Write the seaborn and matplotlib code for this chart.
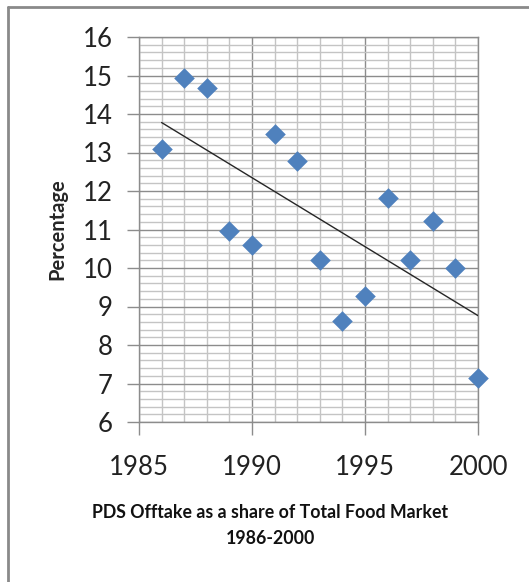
import numpy as np
import pandas as pd
import matplotlib
matplotlib.use('Agg')
import matplotlib.pyplot as plt
from matplotlib.ticker import MultipleLocator
from matplotlib.lines import Line2D
import seaborn as sns

# data
years = [1986, 1987, 1988, 1989, 1990, 1991, 1992, 1993,
         1994, 1995, 1996, 1997, 1998, 1999, 2000]
share = [13.1, 14.93, 14.68, 10.95, 10.6, 13.48, 12.78, 10.22,
         8.63, 9.27, 11.82, 10.22, 11.23, 10.0, 7.15]

df = pd.DataFrame({'year': years, 'share': share})

sns.set_style('white')
plt.rcParams['font.family'] = ['Lato', 'DejaVu Sans']

fig = plt.figure(figsize=(5.29, 5.82), dpi=100)
ax = fig.add_axes([139 / 529, 1 - 422 / 582, 339 / 529, 385 / 582])

ax.set_xlim(1985, 2000)
ax.set_ylim(6, 16)
ax.xaxis.set_major_locator(MultipleLocator(5))
ax.xaxis.set_minor_locator(MultipleLocator(1))
ax.yaxis.set_major_locator(MultipleLocator(1))
ax.yaxis.set_minor_locator(MultipleLocator(0.2))
ax.grid(which='major', color='#8c8c8c', lw=1)
ax.grid(which='minor', color='#c4c4c4', lw=1)
ax.set_axisbelow(True)

sns.regplot(data=df, x='year', y='share', ax=ax, ci=None, marker='D',
            truncate=True,
            scatter_kws=dict(s=110, color='#4F81BD', linewidths=0, alpha=1,
                             zorder=3, clip_on=False),
            line_kws=dict(color='#262626', lw=1, zorder=4))

ax.set_xlim(1985, 2000)
ax.set_ylim(6, 16)
ax.set_xlabel('')
ax.set_ylabel('Percentage', fontsize=14.5, fontweight='bold', va='center')
ax.yaxis.set_label_coords((57 - 139) / 339, 0.5)

for s in ax.spines.values():
    s.set_color('#8c8c8c')
    s.set_linewidth(1)

ax.tick_params(which='major', length=9, width=1, color='#8c8c8c',
               labelsize=18.5, labelcolor='#222222', direction='out')
ax.tick_params(which='minor', length=0)
ax.tick_params(axis='x', pad=15)
ax.tick_params(axis='y', pad=10)
ax.tick_params(left=True, bottom=True)

fig.text(270 / 529, 1 - 513 / 582, 'PDS Offtake as a share of Total Food Market',
         ha='center', va='center', fontsize=12.8, fontweight='bold', color='#111111')
fig.text(270 / 529, 1 - 538 / 582, '1986-2000',
         ha='center', va='center', fontsize=12.8, fontweight='bold', color='#111111')

# outer chart frame (only top and left edge visible)
fig.add_artist(Line2D([8 / 529, 8 / 529], [0, 1 - 7 / 582], transform=fig.transFigure,
                      color='#8a8a8a', lw=2))
fig.add_artist(Line2D([8 / 529, 1], [1 - 7 / 582, 1 - 7 / 582], transform=fig.transFigure,
                      color='#8a8a8a', lw=2))

fig.savefig('out.png', dpi=100)
